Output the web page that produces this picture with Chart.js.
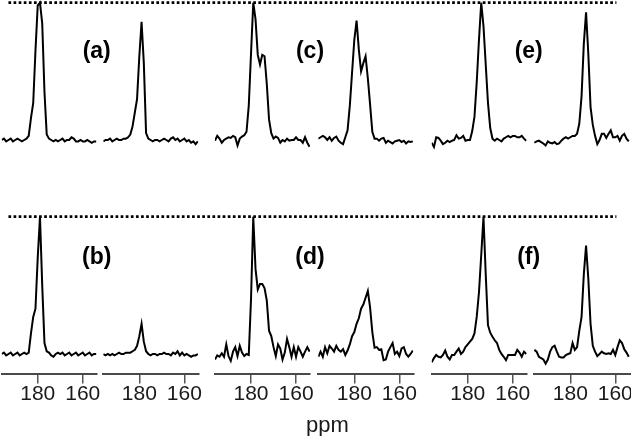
<!DOCTYPE html>
<html>
<head>
<meta charset="utf-8">
<script src="https://cdn.jsdelivr.net/npm/chart.js@4.4.0/dist/chart.umd.min.js"></script>
<style>
  html, body { margin: 0; padding: 0; background: #fff; }
  canvas { display: block; }
</style>
</head>
<body>
<canvas id="nmr" width="631" height="436"></canvas>
<script>
// Eje de desplazamiento químico (ppm), común a los 12 espectros
const ppm = [196, 195, 194, 193, 192, 191, 190, 189, 188, 187, 186,
             185, 184, 183, 182, 181, 180, 179, 178, 177, 176, 175,
             174, 173, 172, 171, 170, 169, 168, 167, 166, 165, 164,
             163, 162, 161, 160, 159, 158, 157, 156, 155, 154];

const tickValues = [180, 160];
const panelLabels = ['(a)', '(b)', '(c)', '(d)', '(e)', '(f)'];
const axisTitle = 'ppm';

// Intensidades normalizadas (1 = línea punteada de referencia)
const specA1 = [0.00, 0.01, -0.01, 0.00, 0.01, -0.01, 0.00, 0.01, 0.00, -0.01, 0.00,
                0.01, 0.03, 0.16, 0.27, 0.65, 0.98, 1.00, 0.85, 0.35, 0.04, 0.01,
                0.00, -0.01, 0.00, -0.01, 0.00, 0.01, -0.01, 0.00, 0.00, 0.02, 0.01,
                -0.01, -0.01, 0.00, -0.01, -0.01, 0.00, -0.01, -0.02, -0.01, -0.01];
const specA2 = [-0.01, 0.00, 0.00, 0.01, -0.01, 0.00, 0.01, 0.00, 0.00, 0.01, 0.01,
                0.02, 0.04, 0.10, 0.20, 0.30, 0.61, 0.86, 0.56, 0.05, 0.01, 0.00,
                -0.01, 0.00, 0.00, -0.01, 0.00, 0.01, 0.00, -0.01, 0.01, 0.02, 0.00,
                0.01, -0.01, 0.00, 0.01, -0.01, 0.00, -0.02, -0.01, -0.03, -0.01];
const specB1 = [0.00, 0.01, -0.01, 0.00, 0.01, -0.01, 0.00, 0.01, -0.01, 0.00, 0.01,
                0.00, 0.01, 0.15, 0.27, 0.33, 0.70, 1.00, 0.50, 0.08, 0.02, 0.01,
                -0.01, -0.02, 0.00, 0.01, 0.00, 0.01, -0.01, 0.00, 0.01, -0.01, 0.00,
                0.01, -0.01, 0.00, 0.01, -0.01, 0.00, 0.01, -0.01, 0.00, 0.00];
const specB2 = [0.00, -0.01, 0.00, -0.01, 0.00, -0.01, 0.00, 0.01, 0.00, 0.00, 0.01,
                0.01, 0.01, 0.02, 0.03, 0.06, 0.13, 0.22, 0.09, 0.02, 0.00, -0.01,
                0.00, 0.00, -0.01, 0.00, 0.00, 0.01, 0.00, 0.00, -0.01, 0.01, 0.00,
                0.02, -0.01, 0.01, -0.01, 0.00, -0.01, -0.02, -0.01, -0.01, 0.00];
const specC1 = [-0.005, 0.03, 0.01, -0.02, 0.00, 0.01, 0.02, 0.015, 0.03, 0.02, -0.04,
                0.01, 0.025, 0.035, 0.06, 0.25, 0.63, 1.00, 0.88, 0.62, 0.55, 0.62,
                0.61, 0.41, 0.15, 0.05, 0.01, 0.025, 0.015, -0.02, 0.00, -0.01, 0.01,
                -0.005, 0.00, 0.00, 0.02, 0.00, 0.00, -0.02, 0.02, -0.02, -0.05];
const specC2 = [0.01, 0.02, 0.03, 0.02, 0.00, 0.02, -0.005, 0.015, 0.025, -0.005, -0.02,
                -0.03, 0.02, 0.07, 0.25, 0.49, 0.73, 0.87, 0.66, 0.50, 0.56, 0.61,
                0.45, 0.26, 0.06, 0.01, 0.01, -0.005, 0.01, 0.015, -0.02, -0.005, -0.015,
                -0.025, -0.01, -0.005, 0.00, -0.015, -0.005, -0.025, -0.01, -0.015, -0.01];
const specD1 = [-0.04, -0.01, -0.02, 0.005, -0.02, 0.07, -0.015, -0.05, 0.017, 0.05, -0.015,
                0.06, 0.01, -0.015, 0.00, -0.007, 0.40, 1.00, 0.62, 0.47, 0.51, 0.51,
                0.48, 0.39, 0.17, 0.13, 0.05, -0.015, 0.07, 0.04, -0.04, 0.01, 0.11,
                0.05, -0.02, 0.05, -0.02, 0.05, 0.017, -0.02, 0.017, 0.05, 0.017];
const specD2 = [-0.02, 0.017, -0.02, 0.05, 0.005, 0.06, 0.04, 0.017, 0.06, 0.03, 0.017,
                0.035, -0.007, 0.025, 0.07, 0.13, 0.16, 0.22, 0.26, 0.33, 0.36, 0.41,
                0.46, 0.34, 0.16, 0.045, 0.05, 0.03, 0.035, -0.045, -0.04, 0.017, 0.05,
                0.08, 0.00, 0.017, -0.015, 0.04, 0.05, 0.00, -0.02, 0.00, 0.025];
const specE1 = [-0.02, -0.05, 0.02, 0.015, -0.005, -0.03, -0.02, -0.005, -0.015, -0.005, 0.00,
                0.035, 0.01, 0.015, 0.03, -0.005, 0.00, 0.00, 0.065, 0.17, 0.42, 0.73,
                1.00, 0.83, 0.55, 0.27, 0.087, 0.01, -0.005, 0.01, 0.00, -0.01, 0.01,
                0.02, 0.03, 0.02, 0.03, 0.03, 0.02, 0.02, 0.03, 0.01, -0.005];
const specE2 = [-0.02, -0.01, -0.005, -0.015, -0.025, -0.04, -0.01, -0.02, -0.025, -0.015, -0.03,
                -0.025, -0.005, 0.01, 0.02, 0.01, 0.02, 0.03, 0.03, 0.045, 0.12, 0.32,
                0.70, 0.93, 0.63, 0.24, 0.11, 0.03, -0.03, 0.00, 0.045, 0.045, 0.015,
                0.045, 0.07, 0.02, 0.02, 0.03, -0.005, 0.03, 0.045, 0.01, -0.01];
const specF1 = [-0.06, -0.03, -0.007, -0.02, -0.025, -0.007, 0.025, -0.02, -0.04, -0.007, -0.007,
                0.017, 0.04, 0.00, 0.017, 0.05, 0.07, 0.09, 0.11, 0.15, 0.27, 0.45,
                0.72, 1.00, 0.58, 0.21, 0.155, 0.125, 0.10, 0.08, 0.03, 0.00, -0.02,
                -0.045, -0.007, -0.007, -0.007, -0.007, 0.03, 0.01, -0.02, 0.017, 0.00];
const specF2 = [0.03, 0.017, -0.02, -0.03, -0.04, -0.07, -0.04, 0.017, 0.05, 0.06, 0.017,
                -0.02, -0.025, -0.025, -0.007, 0.00, 0.005, 0.08, 0.03, 0.05, 0.17, 0.27,
                0.58, 0.79, 0.55, 0.22, 0.06, 0.017, -0.015, 0.00, 0.017, 0.005, 0.00,
                0.005, 0.00, 0.03, -0.007, 0.05, 0.10, 0.08, 0.035, 0.01, -0.02];

// columna -> [espectro fila superior, espectro fila inferior]
const columns = [
  [specA1, specB1], [specA2, specB2],
  [specC1, specD1], [specC2, specD2],
  [specE1, specF1], [specE2, specF2],
];

// Layout (px): ancho de cada columna y huecos entre ellas
const colWidths = [95, 95, 95, 95, 95, 97.3];
const gapWidths = [6.6, 16.7, 8.3, 18.4, 7];
const colRanges = [[153.8, 196], [153.8, 196], [153.8, 196], [153.8, 196], [153.8, 196], [153, 196.3]];

const TEXT_FONT = "'Liberation Sans', Arial, sans-serif";

// sin relleno automático: las columnas ocupan todo el ancho
const noPadding = s => { s.paddingLeft = 0; s.paddingRight = 0; };

// Escalas
const scales = {
  yTop: { type: 'linear', position: 'left', display: false, min: -1.7006, max: 1.0197 },
  yBot: { type: 'linear', position: 'left', display: false, min: -0.142, max: 2.5783 },
};
let w = 0;
colWidths.forEach((cw, i) => {
  scales['x' + (i + 1)] = {
    type: 'linear', position: 'bottom', stack: 'cols', stackWeight: cw, weight: w++,
    reverse: true, min: colRanges[i][0], max: colRanges[i][1],
    afterBuildTicks: s => { s.ticks = tickValues.map(v => ({ value: v })); },
    afterFit: noPadding,
    ticks: { padding: 0, maxRotation: 0, autoSkip: false, color: '#1a1a1a',
             font: { family: TEXT_FONT, size: 21, lineHeight: 1 } },
    grid: { drawOnChartArea: false, drawTicks: true, tickLength: 10, color: '#555', lineWidth: 1.5 },
    border: { display: true, color: '#4a4a4a', width: 2 },
  };
  if (i < gapWidths.length) {
    scales['xg' + (i + 1)] = {
      type: 'linear', position: 'bottom', stack: 'cols', stackWeight: gapWidths[i], weight: w++,
      display: false, afterFit: noPadding,
    };
  }
});

const datasets = [];
columns.forEach((pair, i) => {
  pair.forEach((vals, row) => {
    datasets.push({
      data: ppm.map((p, k) => ({ x: p, y: vals[k] })),
      xAxisID: 'x' + (i + 1),
      yAxisID: row === 0 ? 'yTop' : 'yBot',
      borderColor: '#000',
      borderWidth: 2,
      pointRadius: 0,
      tension: 0,
      fill: false,
    });
  });
});

// Líneas punteadas, etiquetas (a)-(f) y "ppm"
const decorPlugin = {
  id: 'decor',
  afterDatasetsDraw(chart) {
    const ctx = chart.ctx;
    const s = chart.scales;
    ctx.save();
    // referencia de intensidad máxima en cada fila
    ['yTop', 'yBot'].forEach(id => {
      const y = s[id].getPixelForValue(1);
      ctx.beginPath();
      ctx.setLineDash([2.7, 2.4]);
      ctx.lineWidth = 2.7;
      ctx.strokeStyle = '#000';
      ctx.moveTo(s.x1.getPixelForValue(193), y);
      ctx.lineTo(s.x6.getPixelForValue(159.5), y);
      ctx.stroke();
    });
    ctx.setLineDash([]);
    // etiquetas de panel
    ctx.fillStyle = '#000';
    ctx.font = "bold 23px 'Liberation Sans', Arial, sans-serif";
    ctx.textAlign = 'center';
    ctx.textBaseline = 'middle';
    panelLabels.forEach((txt, k) => {
      const col = Math.floor(k / 2) * 2 + 1;
      const row = k % 2;
      const x = s['x' + col].right + (col === 5 ? 2 : 0);
      const y = row === 0 ? s.yTop.getPixelForValue(0.64) : s.yBot.getPixelForValue(0.70);
      ctx.fillText(txt, x, y);
    });
    // título del eje
    ctx.font = '22px ' + TEXT_FONT;
    ctx.textBaseline = 'alphabetic';
    ctx.fillStyle = '#1a1a1a';
    ctx.fillText(axisTitle, s.x4.getPixelForValue(192), 431.5);
    ctx.restore();
  }
};

new Chart(document.getElementById('nmr'), {
  type: 'line',
  data: { datasets },
  options: {
    responsive: false,
    animation: false,
    devicePixelRatio: 1,
    layout: { padding: { left: 1.7, right: 0, top: 0, bottom: 31.5 } },
    plugins: { legend: { display: false }, tooltip: { enabled: false } },
    scales,
  },
  plugins: [decorPlugin],
});
</script>
</body>
</html>
